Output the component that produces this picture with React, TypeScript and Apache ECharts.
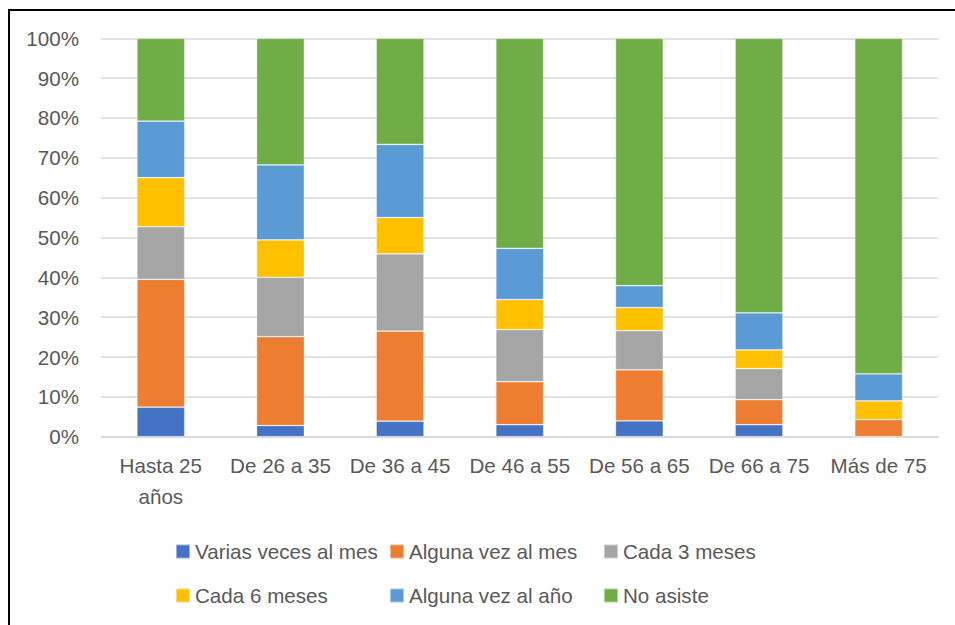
import React, { useEffect, useRef } from "react";
import * as echarts from "echarts";

const categories = [
  "Hasta 25\naños",
  "De 26 a 35",
  "De 36 a 45",
  "De 46 a 55",
  "De 56 a 65",
  "De 66 a 75",
  "Más de 75",
];

const seriesNames = [
  "Varias veces al mes",
  "Alguna vez al mes",
  "Cada 3 meses",
  "Cada 6 meses",
  "Alguna vez al año",
  "No asiste",
];

const variasVecesAlMes = [7.4, 2.8, 3.9, 3.0, 4.0, 3.0, 0];
const algunaVezAlMes = [32.1, 22.3, 22.6, 10.8, 12.8, 6.3, 4.3];
const cada3Meses = [13.2, 14.9, 19.4, 13.1, 9.8, 7.8, 0];
const cada6Meses = [12.3, 9.4, 9.1, 7.5, 5.8, 4.7, 4.7];
const algunaVezAlAno = [14.2, 18.8, 18.4, 12.9, 5.5, 9.3, 6.8];
const noAsiste = [20.8, 31.8, 26.6, 52.7, 62.1, 68.9, 84.2];

const seriesValues = [
  variasVecesAlMes,
  algunaVezAlMes,
  cada3Meses,
  cada6Meses,
  algunaVezAlAno,
  noAsiste,
];

const colors = ["#4472C4", "#ED7D31", "#A5A5A5", "#FFC000", "#5B9BD5", "#70AD47"];

const FONT = "'Liberation Sans', Arial, sans-serif";
const TEXT_COLOR = "#595959";
const FONT_SIZE = 20.6;

export default function App() {
  const ref = useRef<HTMLDivElement>(null);

  useEffect(() => {
    if (!ref.current) return;
    const chart = echarts.init(ref.current, null, { renderer: "svg" });

    const legendCols = [175, 389, 603];
    const legendRows = [541, 585];
    const legends = seriesNames.map((name, i) => ({
      data: [name],
      left: legendCols[i % 3],
      top: legendRows[Math.floor(i / 3)],
      padding: 0,
      itemWidth: 14,
      itemHeight: 14,
      icon: "rect",
      selectedMode: false,
      textStyle: {
        fontFamily: FONT,
        fontSize: FONT_SIZE,
        color: TEXT_COLOR,
        lineHeight: 20,
      },
    }));

    chart.setOption({
      animation: false,
      backgroundColor: "#ffffff",
      color: colors,
      legend: legends,
      grid: {
        left: 101,
        right: 16.5,
        top: 38.3,
        bottom: 188.3,
        containLabel: false,
      },
      xAxis: {
        type: "category",
        data: categories,
        axisLine: { lineStyle: { color: "#D9D9D9", width: 1.5 } },
        axisTick: { show: false },
        axisLabel: {
          fontFamily: FONT,
          fontSize: FONT_SIZE,
          color: TEXT_COLOR,
          lineHeight: 31,
          margin: 13,
          interval: 0,
        },
      },
      yAxis: {
        type: "value",
        min: 0,
        max: 100,
        interval: 10,
        axisLine: { show: false },
        axisTick: { show: false },
        splitLine: { lineStyle: { color: "#D9D9D9", width: 1.5 } },
        axisLabel: {
          fontFamily: FONT,
          fontSize: FONT_SIZE,
          color: TEXT_COLOR,
          margin: 22,
          formatter: "{value}%",
        },
      },
      series: seriesNames.map((name, i) => ({
        name,
        type: "bar",
        stack: "total",
        barWidth: "40%",
        data: seriesValues[i],
        itemStyle: {
          color: colors[i],
          borderColor: "rgba(255,255,255,0.45)",
          borderWidth: 0.75,
        },
      })),
      graphic: [
        {
          type: "line",
          shape: { x1: 9, y1: 10, x2: 955, y2: 10 },
          style: { stroke: "#000000", lineWidth: 2 },
        },
        {
          type: "line",
          shape: { x1: 9, y1: 9, x2: 9, y2: 625 },
          style: { stroke: "#000000", lineWidth: 2 },
        },
      ],
    });

    return () => {
      chart.dispose();
    };
  }, []);

  return (
    <div
      ref={ref}
      style={{ position: "fixed", left: 0, top: 0, width: 955, height: 625 }}
    />
  );
}
